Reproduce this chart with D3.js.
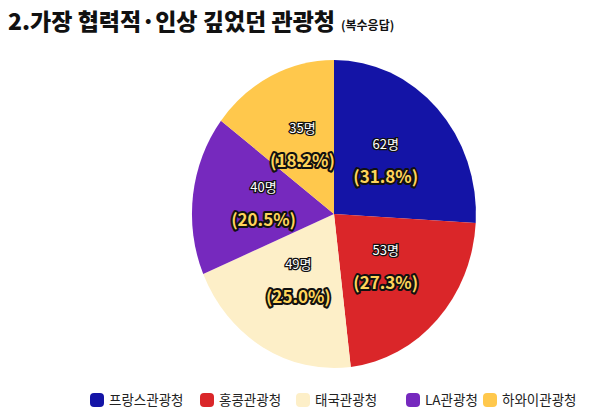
<!DOCTYPE html>
<html><head><meta charset="utf-8">
<script src="https://cdn.jsdelivr.net/npm/d3@7"></script>
<style>body{margin:0;background:#fff}text{font-family:"Noto Sans CJK KR",sans-serif}</style>
</head><body><svg id="c" width="600" height="420"></svg>
<script>
const categories=["프랑스관광청","홍콩관광청","태국관광청","LA관광청","하와이관광청"];
const counts=[62,53,49,40,35];
const percents=["31.8%","27.3%","25.0%","20.5%","18.2%"];
const colors=["#1414a6","#da2629","#fdefc8","#7629be","#ffc84c"];
const svg=d3.select("#c");
svg.append("text").attr("x",8).attr("y",30).attr("font-size",23).attr("font-weight",900).attr("fill","#111").text("2.가장 협력적·인상 깊었던 관광청")
 .append("tspan").attr("font-size",12).attr("font-weight",700).attr("dx",6).text("(복수응답)");
const cx=334,cy=214,rx=142,ry=154;
const pie=d3.pie().sort(null).value(d=>d)(counts);
const arc=d3.arc().innerRadius(0).outerRadius(1);
const g=svg.append("g").attr("transform",`translate(${cx},${cy}) scale(${rx},${ry})`);
g.selectAll("path").data(pie).join("path").attr("d",arc).attr("fill",(d,i)=>colors[i]);
const lab=d3.arc().innerRadius(0.5).outerRadius(0.5);
pie.forEach((d,i)=>{
 const [x,y]=lab.centroid(d);
 const px=cx+x*rx, py=cy+y*ry;
 svg.append("text").attr("x",px).attr("y",py-12).attr("text-anchor","middle").attr("font-size",13)
  .attr("fill","#fff").attr("stroke","#111").attr("stroke-width",2.5).attr("paint-order","stroke").text(counts[i]+"명");
 svg.append("text").attr("x",px).attr("y",py+22).attr("text-anchor","middle").attr("font-size",17).attr("font-weight",700)
  .attr("fill","#ffd45a").attr("stroke","#111").attr("stroke-width",4).attr("stroke-linejoin","round").attr("paint-order","stroke").text("("+percents[i]+")");
});
const leg=svg.append("g");
const xs=[90,200,296,406,483];
categories.forEach((c,i)=>{
 leg.append("rect").attr("x",xs[i]).attr("y",393).attr("width",14).attr("height",14).attr("rx",4).attr("fill",colors[i]);
 leg.append("text").attr("x",xs[i]+19).attr("y",405).attr("font-size",13.5).attr("fill","#222").text(c);
});
</script></body></html>
